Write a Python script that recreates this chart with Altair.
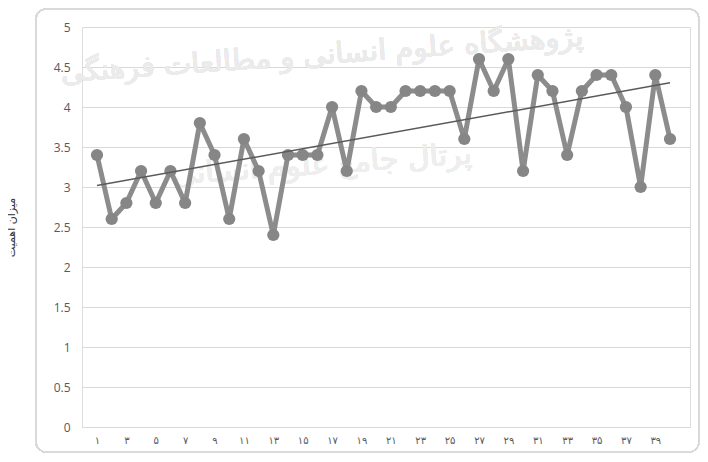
import altair as alt
import pandas as pd

# ---- data ----
items = list(range(1, 41))
values = [3.4, 2.6, 2.8, 3.2, 2.8, 3.2, 2.8, 3.8, 3.4, 2.6,
          3.6, 3.2, 2.4, 3.4, 3.4, 3.4, 4.0, 3.2, 4.2, 4.0,
          4.0, 4.2, 4.2, 4.2, 4.2, 3.6, 4.6, 4.2, 4.6, 3.2,
          4.4, 4.2, 3.4, 4.2, 4.4, 4.4, 4.0, 3.0, 4.4, 3.6]
tick_values = list(range(1, 40, 2))
tick_labels = ["۱", "۳", "۵", "۷", "۹", "۱۱", "۱۳", "۱۵", "۱۷", "۱۹",
               "۲۱", "۲۳", "۲۵", "۲۷", "۲۹", "۳۱", "۳۳", "۳۵", "۳۷", "۳۹"]
y_ticks = [0, 0.5, 1, 1.5, 2, 2.5, 3, 3.5, 4, 4.5, 5]
y_title = "میزان اهمیت"
watermark1 = "پژوهشگاه علوم انسانی و مطالعات فرهنگی"
watermark2 = "پرتال جامع علوم انسانی"

df = pd.DataFrame({"item": items, "value": values})

label_expr = " : ".join(
    f"datum.value == {v} ? '{l}'" for v, l in zip(tick_values, tick_labels)
) + " : ''"

W, H = 608, 400

x_scale = alt.Scale(domain=[-0.02, 41.36], nice=False, zero=False)
y_scale = alt.Scale(domain=[0, 5], nice=False)

x_axis = alt.Axis(values=tick_values, labelExpr=label_expr, grid=False,
                  domain=False, ticks=False, labelPadding=8,
                  labelOverlap=False, labelBound=False,
                  labelFont="DejaVu Sans", labelFontSize=10,
                  labelColor="#595959", title=None)
y_axis = alt.Axis(values=y_ticks, format="~g", labelOverlap=False,
                  grid=True, gridColor="#d9d9d9", gridWidth=1,
                  domain=False, ticks=False, labelPadding=12,
                  labelFont="Open Sans", labelFontSize=12,
                  labelColor="#595959",
                  title=y_title, titleFont="DejaVu Sans",
                  titleFontSize=11, titleFontWeight="normal",
                  titleColor="#333333", titleX=-66, titleY=200,
                  titleAngle=270)

x_enc = alt.X("item:Q", scale=x_scale, axis=x_axis)
y_enc = alt.Y("value:Q", scale=y_scale, axis=y_axis)

frame = alt.Chart(df).mark_rect(
    fill=None, stroke="#d9d9d9", strokeWidth=1.2, cornerRadius=10, clip=False
).encode(x=alt.value(-46), x2=alt.value(617), y=alt.value(-18), y2=alt.value(425))

wm1 = alt.Chart(df).mark_text(
    text=watermark1, font="DejaVu Sans", fontSize=29, color="#ebebeb",
    angle=356, align="center", baseline="middle"
).encode(x=alt.value(240), y=alt.value(28))

wm2 = alt.Chart(df).mark_text(
    text=watermark2, font="DejaVu Sans", fontSize=30, color="#eeeeee",
    angle=356, align="center", baseline="middle"
).encode(x=alt.value(240), y=alt.value(138))

line = alt.Chart(df).mark_line(
    color="#8c8c8c", strokeWidth=5, strokeJoin="round",
    point=alt.OverlayMarkDef(filled=True, color="#868686", size=150, opacity=1)
).encode(x=x_enc, y=y_enc)

trend = alt.Chart(df).transform_regression(
    "item", "value", extent=[1, 40]
).mark_line(color="#5a5a5a", strokeWidth=1.5).encode(x=x_enc, y=y_enc)

chart = alt.layer(frame, wm1, wm2, line, trend).properties(
    width=W, height=H,
    autosize=alt.AutoSizeParams(type="none"),
    padding={"left": 74, "top": 19, "right": 10, "bottom": 26},
).configure_view(stroke=None).configure_axis(
    labelOverlap=False
).configure(background="white")

chart.save("out.html", embed_options={"renderer": "svg", "actions": False})
